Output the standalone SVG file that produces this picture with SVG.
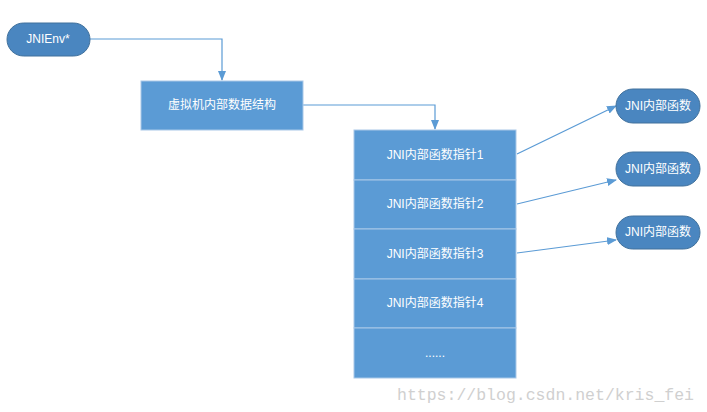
<svg xmlns="http://www.w3.org/2000/svg" width="707" height="412" viewBox="0 0 707 412">
<defs>
<marker id="ah" markerWidth="10" markerHeight="8" refX="9" refY="4" orient="auto" markerUnits="userSpaceOnUse"><path d="M0,0 L10,4 L0,8 z" fill="#5b9bd5"/></marker>
<style>
.pill{fill:#4a86c0;stroke:#41719c;stroke-width:1}
.box{fill:#5b9bd5;stroke:#a9c8e8;stroke-width:1}
.t{fill:#fff;font-family:"Liberation Sans","Noto Sans CJK SC",sans-serif;font-size:12px;text-anchor:middle;dominant-baseline:central}
.c{fill:none;stroke:#5b9bd5;stroke-width:1.2;marker-end:url(#ah)}
</style>
</defs>
<rect width="707" height="412" fill="#fff"/>
<g id="connectors">
<path class="c" d="M90,39 H222 V80"/>
<path class="c" d="M303,105 H435 V129"/>
<path class="c" d="M517,154 L616,106"/>
<path class="c" d="M517,204 L616,180"/>
<path class="c" d="M517,253 L616,240"/>
</g>
<g id="jnienv"><rect class="pill" x="7" y="23" width="83" height="33" rx="16.5"/><text class="t" x="48" y="39">JNIEnv*</text></g>
<g id="vm"><rect class="box" x="141" y="81" width="162" height="49"/><text class="t" x="222" y="105">虚拟机内部数据结构</text></g>
<g id="table">
<rect class="box" x="354" y="130" width="162" height="50"/><text class="t" x="435" y="155">JNI内部函数指针1</text>
<rect class="box" x="354" y="180" width="162" height="49"/><text class="t" x="435" y="204">JNI内部函数指针2</text>
<rect class="box" x="354" y="229" width="162" height="50"/><text class="t" x="435" y="254">JNI内部函数指针3</text>
<rect class="box" x="354" y="279" width="162" height="49"/><text class="t" x="435" y="303">JNI内部函数指针4</text>
<rect class="box" x="354" y="328" width="162" height="50"/><text class="t" x="435" y="353">......</text>
</g>
<g id="f1"><rect class="pill" x="616" y="89" width="84" height="34" rx="17"/><text class="t" x="658" y="106">JNI内部函数</text></g>
<g id="f2"><rect class="pill" x="616" y="152" width="84" height="34" rx="17"/><text class="t" x="658" y="169">JNI内部函数</text></g>
<g id="f3"><rect class="pill" x="616" y="216" width="84" height="33" rx="16.5"/><text class="t" x="658" y="232">JNI内部函数</text></g>
<text x="397" y="400" fill="#d0d0d0" font-family="Liberation Mono,monospace" font-size="16.5" textLength="297">https://blog.csdn.net/kris_fei</text>
</svg>
